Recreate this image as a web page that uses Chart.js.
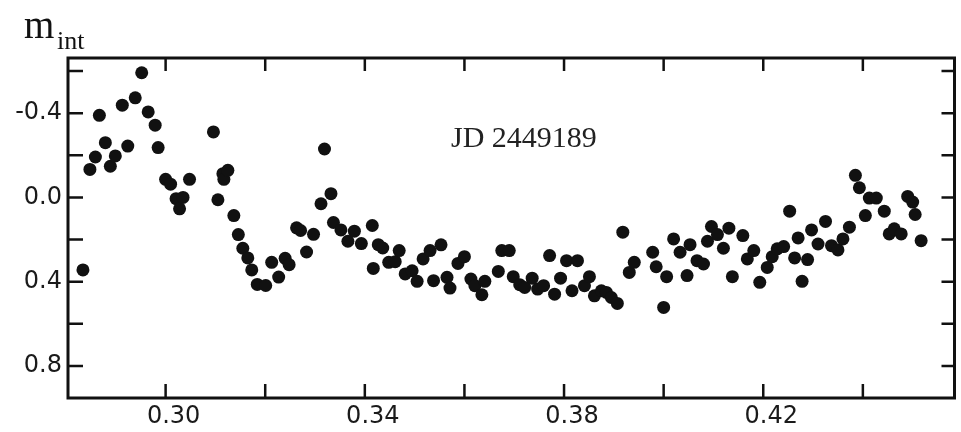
<!DOCTYPE html>
<html>
<head>
<meta charset="utf-8">
<script src="https://cdn.jsdelivr.net/npm/chart.js@4/dist/chart.umd.min.js"></script>
<style>
  body { margin: 0; background: #fff; }
  #lc { display: block; }
</style>
</head>
<body>
<canvas id="lc" width="961" height="432"></canvas>
<script>
// --- Дані: фаза та інтегральна зоряна величина ---
const phase = [
  0.2834, 0.2848, 0.2859, 0.2867, 0.2879, 0.2889, 0.2899, 0.2913, 0.2924, 0.2939,
  0.2952, 0.2965, 0.2979, 0.2985, 0.3000, 0.3010, 0.3021, 0.3028, 0.3035, 0.3048,
  0.3096, 0.3105, 0.3115, 0.3117, 0.3125, 0.3137, 0.3146, 0.3155, 0.3165, 0.3173,
  0.3184, 0.3201, 0.3213, 0.3227, 0.3240, 0.3248, 0.3263, 0.3271, 0.3283, 0.3297,
  0.3312, 0.3319, 0.3332, 0.3337, 0.3352, 0.3366, 0.3379, 0.3393, 0.3415, 0.3417,
  0.3427, 0.3436, 0.3448, 0.3461, 0.3469, 0.3481, 0.3495, 0.3505, 0.3517, 0.3531,
  0.3538, 0.3553, 0.3565, 0.3571, 0.3587, 0.3600, 0.3613, 0.3621, 0.3635, 0.3641,
  0.3668, 0.3675, 0.3690, 0.3698, 0.3711, 0.3721, 0.3736, 0.3747, 0.3759, 0.3771,
  0.3781, 0.3793, 0.3805, 0.3816, 0.3827, 0.3841, 0.3851, 0.3861, 0.3875, 0.3885,
  0.3895, 0.3907, 0.3918, 0.3931, 0.3941, 0.3978, 0.3985, 0.4000, 0.4006, 0.4020,
  0.4033, 0.4047, 0.4053, 0.4067, 0.4080, 0.4088, 0.4096, 0.4108, 0.4120, 0.4131,
  0.4138, 0.4159, 0.4168, 0.4181, 0.4193, 0.4208, 0.4218, 0.4228, 0.4241, 0.4253,
  0.4263, 0.4270, 0.4278, 0.4289, 0.4297, 0.4310, 0.4325, 0.4337, 0.4350, 0.4360,
  0.4373, 0.4385, 0.4393, 0.4405, 0.4413, 0.4427, 0.4443, 0.4453, 0.4463, 0.4477,
  0.4490, 0.4500, 0.4505, 0.4517
];
const mInt = [
  0.344, -0.133, -0.192, -0.390, -0.260, -0.148, -0.197, -0.438, -0.244, -0.473,
  -0.592, -0.406, -0.343, -0.237, -0.086, -0.063, 0.006, 0.054, 0.000, -0.086,
  -0.311, 0.011, -0.113, -0.086, -0.129, 0.086, 0.176, 0.241, 0.287, 0.344,
  0.413, 0.418, 0.308, 0.378, 0.289, 0.319, 0.144, 0.157, 0.259, 0.175,
  0.030, -0.230, -0.018, 0.119, 0.154, 0.208, 0.160, 0.219, 0.133, 0.337,
  0.224, 0.240, 0.308, 0.305, 0.252, 0.363, 0.348, 0.398, 0.292, 0.252,
  0.395, 0.225, 0.379, 0.430, 0.313, 0.281, 0.387, 0.419, 0.462, 0.398,
  0.351, 0.252, 0.252, 0.376, 0.414, 0.427, 0.383, 0.435, 0.419, 0.276,
  0.459, 0.383, 0.300, 0.443, 0.300, 0.419, 0.376, 0.467, 0.443, 0.451,
  0.475, 0.503, 0.165, 0.356, 0.308, 0.260, 0.329, 0.522, 0.376, 0.197,
  0.260, 0.371, 0.224, 0.300, 0.316, 0.208, 0.138, 0.176, 0.241, 0.146,
  0.376, 0.181, 0.292, 0.252, 0.403, 0.332, 0.281, 0.244, 0.233, 0.065,
  0.287, 0.192, 0.398, 0.295, 0.154, 0.221, 0.114, 0.229, 0.249, 0.197,
  0.141, -0.105, -0.046, 0.086, 0.003, 0.003, 0.065, 0.173, 0.149, 0.173,
  -0.005, 0.022, 0.081, 0.205
];

// Поділки осей
const xTicks = [0.30, 0.32, 0.34, 0.36, 0.38, 0.40, 0.42, 0.44];
const xTickLabels = ['0.30', '', '0.34', '', '0.38', '', '0.42', ''];
const yTicks = [-0.6, -0.4, -0.2, 0.0, 0.2, 0.4, 0.6, 0.8];
const yTickLabels = ['', '-0.4', '', '0.0', '', '0.4', '', '0.8'];

const yTitle = 'm';
const yTitleSub = 'int';
const note = 'JD 2449189';

const points = phase.map((p, i) => ({ x: p, y: mInt[i] }));

// Рамка, внутрішні поділки та підписи
const framePlugin = {
  id: 'frame',
  afterDraw(chart) {
    const { ctx, chartArea: a, scales } = chart;
    ctx.save();
    ctx.strokeStyle = '#111';
    ctx.lineWidth = 3;
    ctx.strokeRect(a.left, a.top, a.right - a.left, a.bottom - a.top);

    ctx.lineWidth = 2.5;
    ctx.beginPath();
    scales.y.ticks.forEach(t => {
      const py = scales.y.getPixelForValue(t.value);
      ctx.moveTo(a.left, py); ctx.lineTo(a.left + 15, py);
      ctx.moveTo(a.right, py); ctx.lineTo(a.right - 13, py);
    });
    scales.x.ticks.forEach(t => {
      const px = scales.x.getPixelForValue(t.value);
      ctx.moveTo(px, a.bottom); ctx.lineTo(px, a.bottom - 14);
      ctx.moveTo(px, a.top); ctx.lineTo(px, a.top + 13);
    });
    ctx.stroke();

    ctx.fillStyle = '#111';
    ctx.textBaseline = 'alphabetic';
    ctx.textAlign = 'left';
    ctx.font = '39px "Liberation Serif"';
    ctx.fillText(yTitle, 24, 38);
    ctx.font = '26px "Liberation Serif"';
    ctx.fillText(yTitleSub, 57, 49);

    ctx.fillStyle = '#222';
    ctx.font = '30px "Liberation Serif"';
    ctx.fillText(note, 451, 147);
    ctx.restore();
  }
};

const chart = new Chart(document.getElementById('lc').getContext('2d'), {
  type: 'scatter',
  data: {
    datasets: [{
      data: points,
      pointRadius: 6.5,
      pointBackgroundColor: '#111',
      pointBorderWidth: 0
    }]
  },
  options: {
    responsive: false,
    animation: false,
    layout: { padding: { top: 58, right: 3, left: 0, bottom: 0 } },
    plugins: { legend: { display: false }, tooltip: { enabled: false } },
    scales: {
      x: {
        type: 'linear',
        min: 0.2804,
        max: 0.4584,
        afterBuildTicks: s => { s.ticks = xTicks.map(v => ({ value: v })); },
        afterFit: s => { s.height = 34; },
        grid: { display: false, drawTicks: false },
        border: { display: false },
        ticks: {
          autoSkip: false,
          maxRotation: 0,
          padding: 4,
          labelOffset: 8,
          color: '#1a1a1a',
          font: { family: 'DejaVu Sans', size: 24 },
          callback: (v, i) => xTickLabels[i]
        }
      },
      y: {
        type: 'linear',
        reverse: true,
        min: -0.662,
        max: 0.952,
        afterBuildTicks: s => { s.ticks = yTicks.map(v => ({ value: v })); },
        afterFit: s => { s.width = 68; },
        grid: { display: false, drawTicks: false },
        border: { display: false },
        ticks: {
          autoSkip: false,
          padding: 6,
          color: '#1a1a1a',
          font: { family: 'DejaVu Sans', size: 24 },
          callback: (v, i) => yTickLabels[i]
        }
      }
    }
  },
  plugins: [framePlugin]
});
</script>
</body>
</html>
